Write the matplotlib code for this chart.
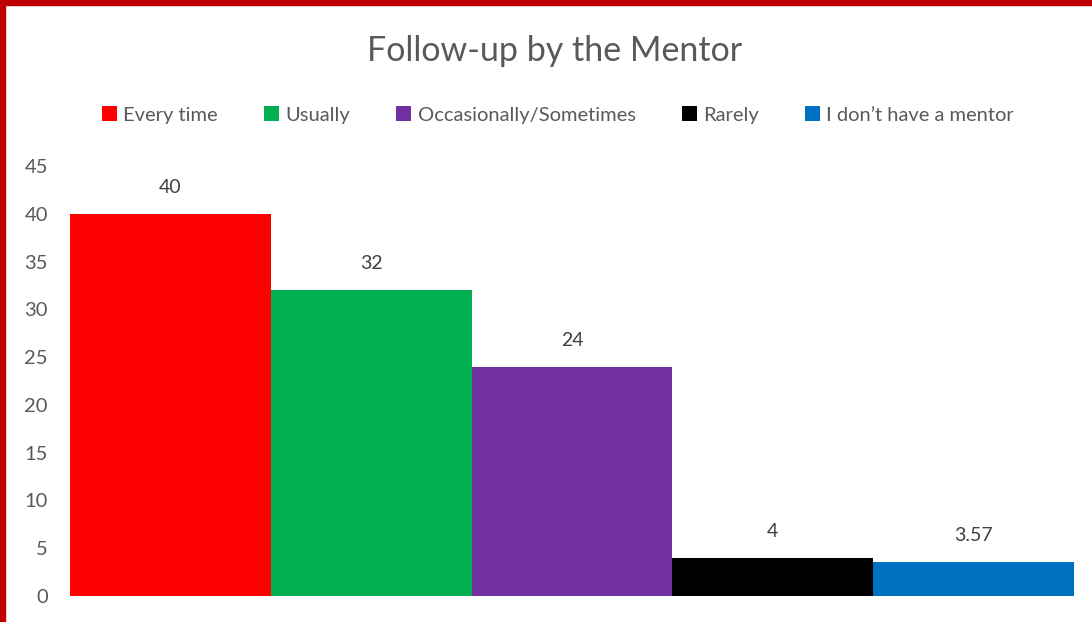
import matplotlib.pyplot as plt
from matplotlib.patches import Rectangle

# data
categories = ['Every time', 'Usually', 'Occasionally/Sometimes', 'Rarely', 'I don\u2019t have a mentor']
values = [40, 32, 24, 4, 3.57]
value_labels = ['40', '32', '24', '4', '3.57']
colors = ['#FF0000', '#00B050', '#7030A0', '#000000', '#0070C0']
yticks = [0, 5, 10, 15, 20, 25, 30, 35, 40, 45]

plt.rcParams['font.family'] = ['Lato', 'DejaVu Sans']
text_color = '#595959'

fig = plt.figure(figsize=(10.92, 6.22), dpi=100)
ax = fig.add_axes([70 / 1092, 26 / 622, 1004 / 1092, 430 / 622])

for i, (cat, val, col) in enumerate(zip(categories, values, colors)):
    ax.bar(i, val, width=1.0, color=col, label=cat)
    ax.annotate(value_labels[i], (i, val), xytext=(0, 13), textcoords='offset points',
                ha='center', va='bottom', fontsize=14, color='#404040')

ax.set_xlim(-0.5, len(categories) - 0.5)
ax.set_ylim(0, 45)
ax.set_yticks(yticks)
ax.set_xticks([])
ax.tick_params(axis='y', length=0, labelsize=14.5, labelcolor=text_color, pad=16)
for s in ax.spines.values():
    s.set_visible(False)

fig.text(555 / 1092, 1 - 51 / 622, 'Follow-up by the Mentor', ha='center', va='center',
         fontsize=24.5, color=text_color)

fig.legend(loc='center', bbox_to_anchor=(558 / 1092, 1 - 115 / 622), ncol=5, frameon=False,
           fontsize=14.5, labelcolor=text_color, handlelength=0.75, handleheight=0.75,
           handletextpad=0.3, columnspacing=2.3)

# red frame on the top and left edges
fig.patches.append(Rectangle((0, 1 - 5 / 622), 1, 5 / 622, transform=fig.transFigure,
                             color='#C00000', zorder=10))
fig.patches.append(Rectangle((0, 0), 5 / 1092, 1, transform=fig.transFigure,
                             color='#C00000', zorder=10))

fig.savefig('out.png', dpi=100)
